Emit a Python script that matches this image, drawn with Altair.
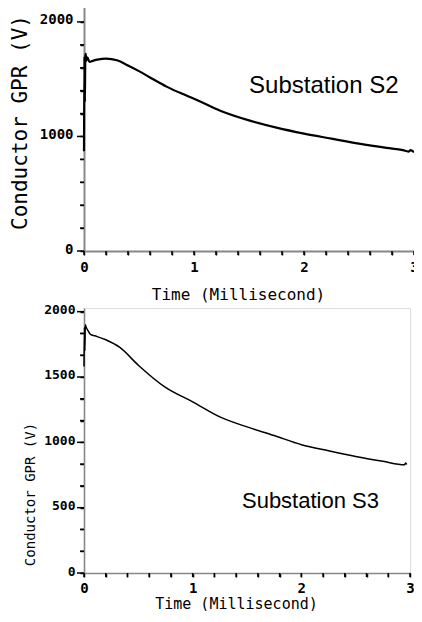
import altair as alt
import pandas as pd

# ---- data ----
s2_time = [0.0, 0.004, 0.008, 0.012, 0.016, 0.02, 0.03, 0.05, 0.08, 0.12, 0.2, 0.3, 0.4, 0.5,
           0.6, 0.75, 0.9, 1.0, 1.25, 1.5, 1.75, 2.0, 2.25, 2.5, 2.75, 2.9, 2.95, 2.97, 3.0]
s2_volt = [870, 1700, 1300, 1690, 1720, 1660, 1690, 1650, 1660, 1670, 1680, 1665, 1620, 1570,
           1515, 1435, 1370, 1330, 1220, 1140, 1077, 1025, 981, 937, 900, 880, 868, 880, 862]

s3_time = [0.0, 0.004, 0.008, 0.012, 0.02, 0.04, 0.06, 0.1, 0.2, 0.33, 0.5, 0.75, 1.0, 1.25,
           1.5, 1.75, 2.0, 2.25, 2.5, 2.75, 2.95, 2.96, 2.97]
s3_volt = [1580, 1880, 1700, 1900, 1880, 1850, 1826, 1815, 1785, 1726, 1590, 1420, 1310, 1195,
           1118, 1052, 982, 935, 892, 855, 828, 842, 830]

x_ticks = [0, 0.2, 0.4, 0.6, 0.8, 1, 1.2, 1.4, 1.6, 1.8, 2, 2.2, 2.4, 2.6, 2.8, 3]
x_labels = [0, 1, 2, 3]
top_y_ticks = [0, 200, 400, 600, 800, 1000, 1200, 1400, 1600, 1800, 2000]
top_y_labels = [0, 1000, 2000]
bot_y_ticks = [0, 166.67, 333.33, 500, 666.67, 833.33, 1000, 1166.67, 1333.33, 1500,
               1666.67, 1833.33, 2000]
bot_y_labels = [0, 500, 1000, 1500, 2000]

x_title = "Time (Millisecond)"
y_title = "Conductor GPR (V)"
top_note = "Substation S2"
bot_note = "Substation S3"

MONO = "DejaVu Sans Mono"


def in_list(vals):
    return "indexof([" + ",".join(str(v) for v in vals) + "], datum.value) >= 0"


def x_axis(title_x, title_y, title_size, label_pad, dw):
    return alt.Axis(
        values=x_ticks, labelExpr=in_list(x_labels) + " ? format(datum.value, 'd') : ''",
        ticks=True, tickSize=4, tickColor="black", tickWidth=1.5,
        labelPadding=label_pad, labelFont=MONO,
        labelFontSize=14, labelFontWeight="bold", labelFlush=False, labelOverlap=False,
        domainWidth=dw, grid=True, gridOpacity=0,
        title=x_title, titleFont=MONO, titleFontSize=title_size, titleFontWeight="normal",
        titleX=title_x, titleY=title_y, titleBaseline="alphabetic", titleAlign="center",
    )


def y_axis(vals, labels, title_x, title_y, title_size, label_size, label_pad, dw):
    return alt.Axis(
        values=vals, labelExpr=in_list(labels) + " ? format(datum.value, 'd') : ''",
        ticks=True, tickSize=4, tickColor="black", tickWidth=1.5,
        labelPadding=label_pad, labelFont=MONO,
        labelFontSize=label_size, labelFontWeight="bold", labelBaseline="alphabetic",
        labelOffset=2, labelFlush=False, labelOverlap=False, domainWidth=dw,
        grid=True, gridOpacity=0,
        title=y_title, titleFont=MONO, titleFontSize=title_size, titleFontWeight="normal",
        titleX=title_x, titleY=title_y, titleBaseline="alphabetic", titleAngle=270,
        titleAlign="center",
    )


def tick_layers(x_enc, y_enc, height, y_vals, y_major):
    xt = alt.Chart(pd.DataFrame({"t": x_ticks})).mark_rule(
        color="black", strokeWidth=1.5).encode(
        x=x_enc, y=alt.value(height), y2=alt.value(height + 4))
    major = [v for v in y_vals if round(v) in y_major]
    minor = [v for v in y_vals if round(v) not in y_major]
    ymaj = alt.Chart(pd.DataFrame({"v": major})).mark_rule(
        color="black", strokeWidth=1.5).encode(
        y=y_enc, x=alt.value(0), x2=alt.value(-7))
    ymin = alt.Chart(pd.DataFrame({"v": minor})).mark_rule(
        color="black", strokeWidth=1.5).encode(
        y=y_enc, x=alt.value(0), x2=alt.value(-4))
    return [xt, ymaj, ymin]


top_df = pd.DataFrame({"t": s2_time, "v": s2_volt})
bot_df = pd.DataFrame({"t": s3_time, "v": s3_volt})

TOP_W, TOP_H = 330, 244
BOT_W, BOT_H = 326, 265

top_x = alt.X("t:Q", scale=alt.Scale(domain=[0, 3], nice=False, zero=False),
              axis=x_axis(154, 48, 16, 5, 2))
top_y = alt.Y("v:Q", scale=alt.Scale(domain=[0, 2130], nice=False),
              axis=y_axis(top_y_ticks, top_y_labels, -58, 115, 21, 14, 7, 2))

top_line = alt.Chart(top_df).mark_line(color="black", strokeWidth=2.2,
                                       interpolate="monotone").encode(x=top_x, y=top_y)
top_text = alt.Chart(pd.DataFrame({"t": [2.18], "v": [1440], "label": [top_note]})).mark_text(
    font="Liberation Sans", fontSize=24, color="black", baseline="middle", align="center"
).encode(x=top_x, y=top_y, text="label:N")
top = alt.layer(top_line, top_text,
                *tick_layers(top_x, top_y, TOP_H, top_y_ticks, top_y_labels)
                ).properties(width=TOP_W, height=TOP_H)

bot_x = alt.X("t:Q", scale=alt.Scale(domain=[0, 3], nice=False, zero=False),
              axis=x_axis(152, 35, 15, 4, 1.6))
bot_y = alt.Y("v:Q", scale=alt.Scale(domain=[0, 2028], nice=False),
              axis=y_axis(bot_y_ticks, bot_y_labels, -50, 186, 14, 13, 5, 1.6))

bot_line = alt.Chart(bot_df).mark_line(color="black", strokeWidth=1.5,
                                       interpolate="monotone").encode(x=bot_x, y=bot_y)
bot_text = alt.Chart(pd.DataFrame({"t": [2.084], "v": [550], "label": [bot_note]})).mark_text(
    font="Liberation Sans", fontSize=22, color="black", baseline="middle", align="center"
).encode(x=bot_x, y=bot_y, text="label:N")
bottom = alt.layer(bot_line, bot_text,
                   *tick_layers(bot_x, bot_y, BOT_H, bot_y_ticks, bot_y_labels)
                   ).properties(width=BOT_W, height=BOT_H)

chart = alt.vconcat(top, bottom, spacing=57, bounds="flush").properties(
    padding={"left": 0, "top": -2, "right": -5, "bottom": -1}
).configure_view(stroke=None).configure_axis(
    domainColor="black", tickColor="black", labelColor="black", titleColor="black"
).configure(background="white")

chart.save("out.html", embed_options={"renderer": "svg", "actions": False})
